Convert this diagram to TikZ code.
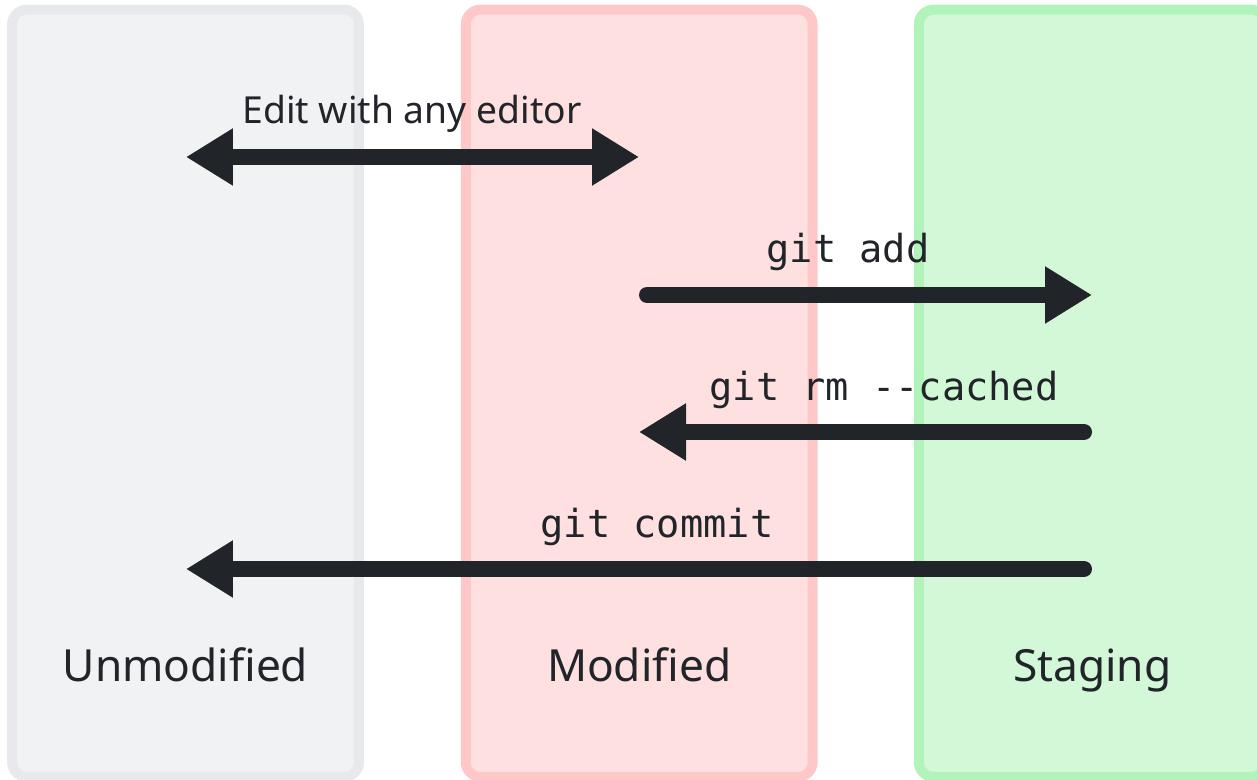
\documentclass[tikz,border=0pt]{standalone}
\usepackage{fontspec}
\setmainfont{Noto Sans}
\setmonofont{DejaVu Sans Mono}
\usetikzlibrary{arrows.meta}
\definecolor{grayfill}{HTML}{F1F2F4}
\definecolor{grayline}{HTML}{E7E9EC}
\definecolor{redfill}{HTML}{FFE0E0}
\definecolor{redline}{HTML}{FFC8C8}
\definecolor{greenfill}{HTML}{D3F8D8}
\definecolor{greenline}{HTML}{B2F2BB}
\definecolor{ink}{HTML}{212428}
\begin{document}
\begin{tikzpicture}[x=0.02cm,y=-0.02cm,
  lane/.style={line width=0.2cm, rounded corners=0.3cm, minimum width=6.94cm,
    minimum height=15.35cm, inner sep=0pt, outer sep=0pt},
  lanetitle/.style={anchor=base, text=ink, font=\fontsize{25.2}{30}\selectfont},
  cmd/.style={anchor=base, text=ink, font=\ttfamily\fontsize{22}{26}\selectfont},
  edittext/.style={anchor=base, text=ink, font=\fontsize{21.2}{25}\selectfont},
  conn/.style={draw=ink, line width=0.32cm, line cap=round,
    -{Triangle[length=0.94cm,width=1.08cm]}},
  biconn/.style={draw=ink, line width=0.32cm, line cap=round,
    {Triangle[length=0.94cm,width=1.08cm]}-{Triangle[length=0.94cm,width=1.08cm]}}]
\useasboundingbox (0,0) rectangle (1257,780);
\clip (0,0) rectangle (1257,780);
% lanes
\node[lane, draw=grayline, fill=grayfill] (unmod) at (185.5,393.25) {};
\node[lane, draw=redline, fill=redfill] (mod) at (639.25,393.25) {};
\node[lane, draw=greenline, fill=greenfill] (stage) at (1092.25,393.25) {};
% lane titles
\node[lanetitle] (tunmod) at (185.5,681) {Unmodified};
\node[lanetitle] (tmod) at (639.25,681) {Modified};
\node[lanetitle] (tstage) at (1092.25,681) {Staging};
% connector end points
\coordinate (editL) at (186,157);
\coordinate (editR) at (639,157);
\coordinate (addS) at (647,295);
\coordinate (addE) at (1092,295);
\coordinate (rmS) at (1084,432);
\coordinate (rmE) at (639,432);
\coordinate (comS) at (1084,569);
\coordinate (comE) at (186,569);
% connectors
\draw[biconn] (editL) -- (editR);
\draw[conn] (addS) -- (addE);
\draw[conn] (rmS) -- (rmE);
\draw[conn] (comS) -- (comE);
% labels
\node[edittext] (ledit) at (412,124) {Edit with any editor};
\node[cmd] (ladd) at (848,263) {git add};
\node[cmd] (lrm) at (884,400) {git rm -{}-cached};
\node[cmd] (lcom) at (657,537) {git commit};
\end{tikzpicture}
\end{document}
